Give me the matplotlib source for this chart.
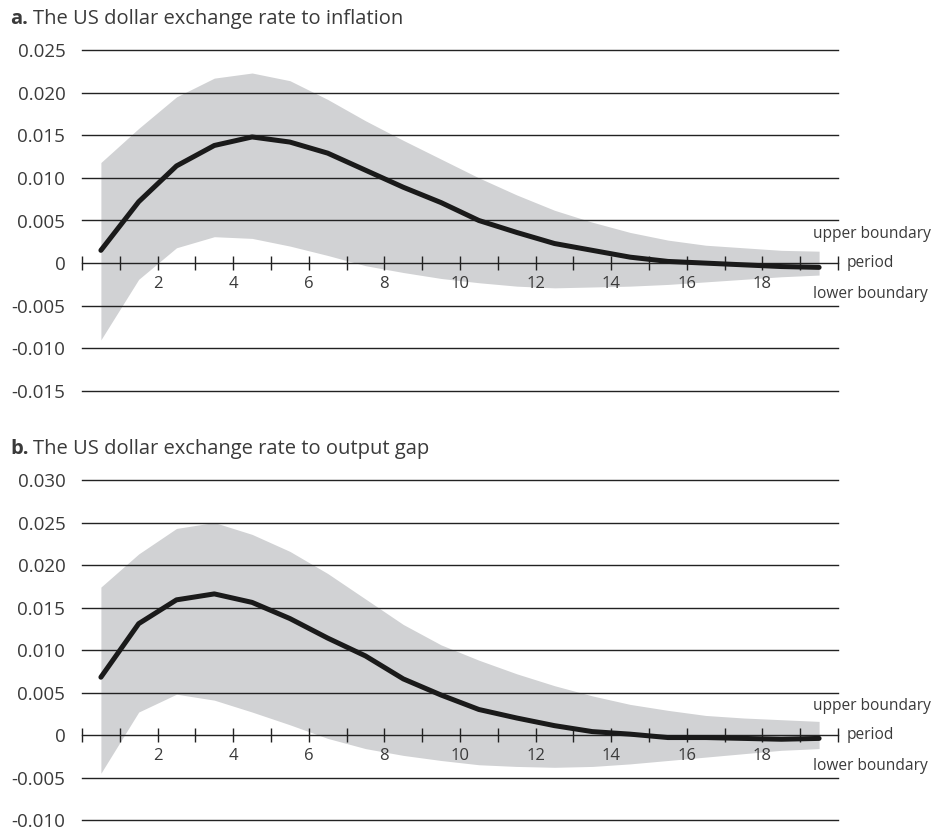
import numpy as np
import matplotlib
matplotlib.use("Agg")
import matplotlib.pyplot as plt

plt.rcParams["font.family"] = ["Open Sans", "DejaVu Sans"]

# impulse responses, periods 0.5 .. 19.5
periods = np.arange(20) + 0.5

infl_mid = [0.0015, 0.0072, 0.0114, 0.0138, 0.0148, 0.0142, 0.0129, 0.0109, 0.0089, 0.0071,
            0.0050, 0.0036, 0.0023, 0.0015, 0.0007, 0.0002, 0.0000, -0.0002, -0.0004, -0.0005]
infl_up = [0.0118, 0.0158, 0.0195, 0.0217, 0.0223, 0.0214, 0.0192, 0.0167, 0.0144, 0.0122,
           0.0100, 0.0080, 0.0062, 0.0048, 0.0036, 0.0027, 0.0021, 0.0018, 0.0015, 0.0014]
infl_lo = [-0.0090, -0.0019, 0.0018, 0.0031, 0.0029, 0.0020, 0.0009, -0.0003, -0.0011, -0.0018,
           -0.0023, -0.0027, -0.0029, -0.0028, -0.0027, -0.0025, -0.0022, -0.0019, -0.0016, -0.0014]

gap_mid = [0.0068, 0.0131, 0.0159, 0.0166, 0.0156, 0.0137, 0.0114, 0.0093, 0.0066, 0.0047,
           0.0030, 0.0020, 0.0011, 0.0004, 0.0001, -0.0003, -0.0003, -0.0004, -0.0005, -0.0004]
gap_up = [0.0174, 0.0213, 0.0243, 0.0250, 0.0236, 0.0216, 0.0190, 0.0160, 0.0130, 0.0106,
          0.0088, 0.0072, 0.0058, 0.0046, 0.0036, 0.0029, 0.0023, 0.0020, 0.0018, 0.0016]
gap_lo = [-0.0045, 0.0027, 0.0048, 0.0041, 0.0027, 0.0012, -0.0004, -0.0016, -0.0024, -0.0030,
          -0.0035, -0.0037, -0.0038, -0.0037, -0.0034, -0.0030, -0.0026, -0.0022, -0.0018, -0.0016]

infl_yticks = [-0.015, -0.010, -0.005, 0.0, 0.005, 0.010, 0.015, 0.020, 0.025]
infl_ylabels = ["-0.015", "-0.010", "-0.005", "0", "0.005", "0.010", "0.015", "0.020", "0.025"]
gap_yticks = [-0.010, -0.005, 0.0, 0.005, 0.010, 0.015, 0.020, 0.025, 0.030]
gap_ylabels = ["-0.010", "-0.005", "0", "0.005", "0.010", "0.015", "0.020", "0.025", "0.030"]
xlabels = [2, 4, 6, 8, 10, 12, 14, 16, 18]

TXT = "#3a3a3a"
BAND = "#d1d2d4"


def panel(ax, mid, up, lo, yticks, ylabels, letter, title):
    ax.fill_between(periods, lo, up, color=BAND, lw=0, zorder=1)
    for y in yticks:
        if y != 0:
            ax.axhline(y, color="#222222", lw=1.0, zorder=2, clip_on=False)
    ax.plot(periods, mid, color="#1a1a1a", lw=3.6, solid_capstyle="round", zorder=4)

    ax.set_xlim(0, 20)
    ax.set_ylim(yticks[0], yticks[-1])
    for s in ["top", "right", "left"]:
        ax.spines[s].set_visible(False)
    ax.spines["bottom"].set_position(("data", 0))
    ax.spines["bottom"].set_color("#222222")
    ax.spines["bottom"].set_linewidth(1.0)
    ax.spines["bottom"].set_zorder(3)

    ax.set_xticks(range(0, 21))
    ax.set_xticklabels([str(t) if t in xlabels else "" for t in range(0, 21)])
    ax.tick_params(axis="x", direction="inout", length=10, width=1.0,
                   color="#222222", labelsize=12, labelcolor=TXT, pad=4)
    ax.set_yticks(yticks)
    ax.set_yticklabels(ylabels)
    ax.tick_params(axis="y", length=0, labelsize=13.5, labelcolor=TXT, pad=12)
    for t in ax.get_xticklabels():
        t.set_zorder(5)

    ax.annotate("upper boundary", xy=(20, 0), xycoords="data", xytext=(-18, 21),
                textcoords="offset points", ha="left", va="center", fontsize=11.2, color=TXT)
    ax.annotate("period", xy=(20, 0), xycoords="data", xytext=(6, 0),
                textcoords="offset points", ha="left", va="center", fontsize=11.2, color=TXT)
    ax.annotate("lower boundary", xy=(20, 0), xycoords="data", xytext=(-18, -22),
                textcoords="offset points", ha="left", va="center", fontsize=11.2, color=TXT)

    fig = ax.figure
    bb = ax.get_position()
    fig.text(10 / 936, bb.y1 + 31 / 830, letter, fontsize=14.5, fontweight="bold",
             color=TXT, ha="left", va="center")
    fig.text(33 / 936, bb.y1 + 31 / 830, title, fontsize=14.5,
             color=TXT, ha="left", va="center")


fig = plt.figure(figsize=(9.36, 8.3), dpi=100)
ax_a = fig.add_axes([82 / 936, 1 - 391 / 830, 756 / 936, 341 / 830])
ax_b = fig.add_axes([82 / 936, 1 - 820 / 830, 756 / 936, 340 / 830])

panel(ax_a, infl_mid, infl_up, infl_lo, infl_yticks, infl_ylabels,
      "a.", "The US dollar exchange rate to inflation")
panel(ax_b, gap_mid, gap_up, gap_lo, gap_yticks, gap_ylabels,
      "b.", "The US dollar exchange rate to output gap")

fig.savefig("out.png", dpi=100)
